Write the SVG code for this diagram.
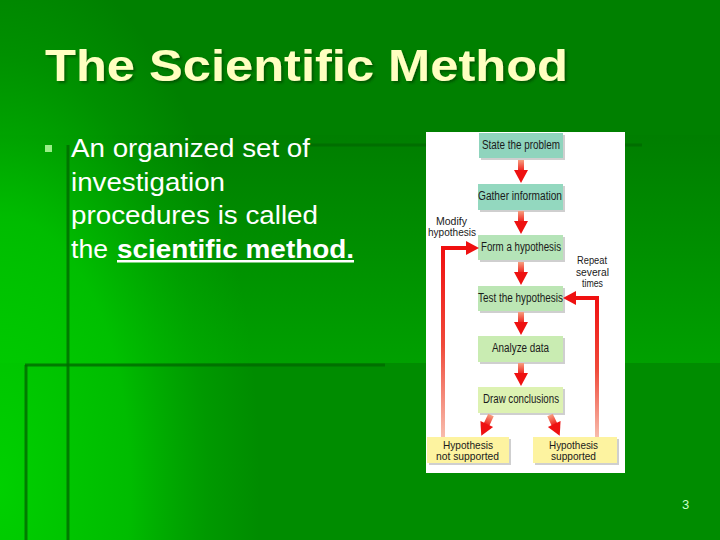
<svg xmlns="http://www.w3.org/2000/svg" width="720" height="540" viewBox="0 0 720 540">
<defs>
<style>
.title{font-family:"Liberation Sans",Arial,sans-serif;font-weight:bold;font-size:44px;fill:#ffffc0}
.body{font-family:"Liberation Sans",Arial,sans-serif;font-size:25px;fill:#ffffff}
.lbl{font-family:"Liberation Sans",Arial,sans-serif;font-size:12.5px;fill:#1a1a1a}
.sm{font-size:11px}
.box{stroke:none}
.shadow{fill:#cfcfcf}
.bgline{stroke:#006a00;stroke-width:3;opacity:0.8}
.arrow{fill:#ee1111}
</style>
<filter id="ds" x="-5%" y="-20%" width="110%" height="150%">
<feDropShadow dx="2" dy="2" stdDeviation="0.8" flood-color="#003000" flood-opacity="0.5"/>
</filter>
<linearGradient id="band" x1="0" y1="0" x2="0" y2="1">
<stop offset="0" stop-color="#007e00"/>
<stop offset="1" stop-color="#00a000"/>
</linearGradient>
<radialGradient id="glow" cx="0" cy="0.9" r="1">
<stop offset="0" stop-color="#00d000" stop-opacity="1"/>
<stop offset="0.5" stop-color="#00cc00" stop-opacity="0.75"/>
<stop offset="0.8" stop-color="#00c000" stop-opacity="0.25"/>
<stop offset="1" stop-color="#00c000" stop-opacity="0"/>
</radialGradient>
<linearGradient id="loopL" gradientUnits="userSpaceOnUse" x1="0" y1="250" x2="0" y2="440">
<stop offset="0" stop-color="#f01010"/>
<stop offset="0.5" stop-color="#f04a3a"/>
<stop offset="1" stop-color="#f8c0b0"/>
</linearGradient>
<linearGradient id="loopR" gradientUnits="userSpaceOnUse" x1="0" y1="298" x2="0" y2="440">
<stop offset="0" stop-color="#f01010"/>
<stop offset="0.5" stop-color="#f04a3a"/>
<stop offset="1" stop-color="#f8c0b0"/>
</linearGradient>
<linearGradient id="shaft" x1="0" y1="0" x2="0" y2="1">
<stop offset="0" stop-color="#f6a080"/>
<stop offset="1" stop-color="#ee1111"/>
</linearGradient>
<g id="down">
<rect x="-3" y="0" width="6" height="12" fill="url(#shaft)"/>
<polygon points="-7,10 7,10 0,23" class="arrow"/>
</g>
</defs>

<!-- background -->
<rect x="0" y="0" width="720" height="540" fill="#008c00"/>
<rect x="0" y="0" width="720" height="135" fill="#008000"/>
<rect x="0" y="135" width="720" height="228" fill="url(#band)"/>
<rect x="0" y="0" width="260" height="540" fill="url(#glow)"/>
<line class="bgline" x1="310" y1="145" x2="642" y2="145"/>
<line class="bgline" x1="68" y1="145" x2="68" y2="540"/>
<line class="bgline" x1="25" y1="365" x2="385" y2="365"/>
<line class="bgline" x1="26" y1="365" x2="26" y2="540"/>

<!-- title -->
<text class="title" x="45" y="81" textLength="523" lengthAdjust="spacingAndGlyphs" filter="url(#ds)">The Scientific Method</text>

<!-- bullet text -->
<rect x="45" y="145" width="7" height="7" fill="#99ee88"/>
<text class="body" x="71" y="157" textLength="239" lengthAdjust="spacingAndGlyphs">An organized set of</text>
<text class="body" x="71" y="191" textLength="154" lengthAdjust="spacingAndGlyphs">investigation</text>
<text class="body" x="71" y="224" textLength="247" lengthAdjust="spacingAndGlyphs">procedures is called</text>
<text class="body" x="71" y="258" textLength="37" lengthAdjust="spacingAndGlyphs">the</text>
<text class="body" x="117" y="258" font-weight="bold" text-decoration="underline" textLength="237" lengthAdjust="spacingAndGlyphs">scientific method.</text>

<text x="682" y="509" font-family="Liberation Sans,Arial,sans-serif" font-size="13" fill="#c8ffc8">3</text>

<!-- diagram panel -->
<rect x="426" y="132" width="199" height="341" fill="#ffffff"/>

<g id="n1">
<rect class="shadow" x="481" y="135" width="84" height="25"/>
<rect class="box" x="479" y="133" width="84" height="25" fill="#8fd4bd"/>
<text class="lbl" x="482" y="149" textLength="78" lengthAdjust="spacingAndGlyphs">State the problem</text>
</g>
<g id="n2">
<rect class="shadow" x="480" y="186" width="85" height="26"/>
<rect class="box" x="478" y="184" width="85" height="26" fill="#93d8bf"/>
<text class="lbl" x="478" y="200" textLength="84" lengthAdjust="spacingAndGlyphs">Gather information</text>
</g>
<g id="n3">
<rect class="shadow" x="480" y="237" width="85" height="25"/>
<rect class="box" x="478" y="235" width="85" height="25" fill="#b5e4b8"/>
<text class="lbl" x="481" y="251" textLength="80" lengthAdjust="spacingAndGlyphs">Form a hypothesis</text>
</g>
<g id="n4">
<rect class="shadow" x="480" y="288" width="85" height="25"/>
<rect class="box" x="478" y="286" width="85" height="25" fill="#bce6b4"/>
<text class="lbl" x="478" y="302" textLength="85" lengthAdjust="spacingAndGlyphs">Test the hypothesis</text>
</g>
<g id="n5">
<rect class="shadow" x="480" y="338" width="85" height="26"/>
<rect class="box" x="478" y="336" width="85" height="26" fill="#c9ecb2"/>
<text class="lbl" x="492" y="352" textLength="57" lengthAdjust="spacingAndGlyphs">Analyze data</text>
</g>
<g id="n6">
<rect class="shadow" x="480" y="389" width="85" height="26"/>
<rect class="box" x="478" y="387" width="85" height="26" fill="#ddf2b2"/>
<text class="lbl" x="483" y="403" textLength="76" lengthAdjust="spacingAndGlyphs">Draw conclusions</text>
</g>
<g id="n7">
<rect class="shadow" x="429" y="439" width="82" height="26"/>
<rect class="box" x="427" y="437" width="82" height="26" fill="#fdf3a0"/>
<text class="lbl sm" x="443" y="448.5" textLength="50" lengthAdjust="spacingAndGlyphs">Hypothesis</text>
<text class="lbl sm" x="436" y="459.5" textLength="63" lengthAdjust="spacingAndGlyphs">not supported</text>
</g>
<g id="n8">
<rect class="shadow" x="535" y="439" width="84" height="26"/>
<rect class="box" x="533" y="437" width="84" height="26" fill="#fdf3a0"/>
<text class="lbl sm" x="549" y="448.5" textLength="49" lengthAdjust="spacingAndGlyphs">Hypothesis</text>
<text class="lbl sm" x="551" y="459.5" textLength="45" lengthAdjust="spacingAndGlyphs">supported</text>
</g>

<g id="labels">
<text class="lbl sm" x="436" y="225" textLength="31" lengthAdjust="spacingAndGlyphs">Modify</text>
<text class="lbl sm" x="428" y="236" textLength="48" lengthAdjust="spacingAndGlyphs">hypothesis</text>
<text class="lbl sm" x="577" y="264" textLength="30" lengthAdjust="spacingAndGlyphs">Repeat</text>
<text class="lbl sm" x="576" y="276" textLength="33" lengthAdjust="spacingAndGlyphs">several</text>
<text class="lbl sm" x="582" y="287" textLength="21" lengthAdjust="spacingAndGlyphs">times</text>
</g>

<g id="connectors">
<use href="#down" x="521" y="160"/>
<use href="#down" x="521" y="211"/>
<use href="#down" x="521" y="262"/>
<use href="#down" x="521" y="312"/>
<use href="#down" x="521" y="363"/>
<use href="#down" transform="translate(491,415) rotate(25)"/>
<use href="#down" transform="translate(550,415) rotate(-25)"/>
<path d="M443 437 V248 H468" fill="none" stroke="url(#loopL)" stroke-width="4"/>
<polygon class="arrow" points="466,241 479,248 466,255"/>
<path d="M597 437 V298 H574" fill="none" stroke="url(#loopR)" stroke-width="4"/>
<polygon class="arrow" points="576,291 563,298 576,305"/>
</g>
</svg>
